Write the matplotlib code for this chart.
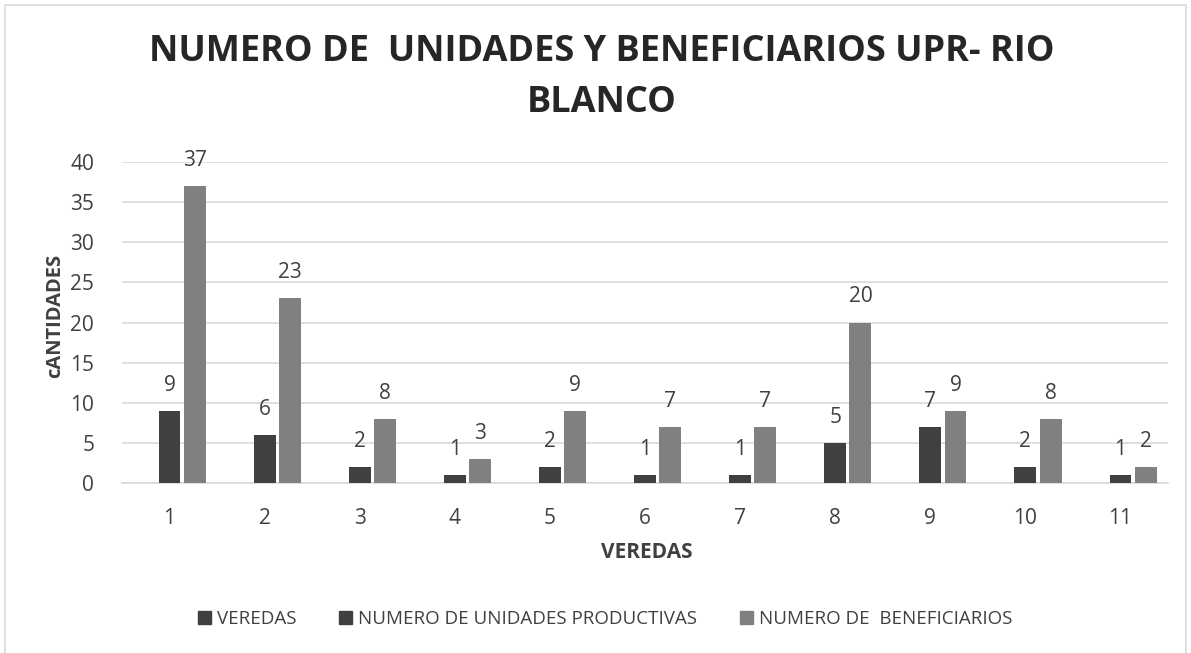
import matplotlib.pyplot as plt
import numpy as np
from matplotlib.patches import Rectangle, Patch

veredas = [1, 2, 3, 4, 5, 6, 7, 8, 9, 10, 11]
veredas_vals = [0, 0, 0, 0, 0, 0, 0, 0, 0, 0, 0]
unidades = [9, 6, 2, 1, 2, 1, 1, 5, 7, 2, 1]
beneficiarios = [37, 23, 8, 3, 9, 7, 7, 20, 9, 8, 2]

plt.rcParams['font.family'] = ['Open Sans', 'DejaVu Sans']
txt = '#404040'

fig = plt.figure(figsize=(11.91, 6.53), dpi=100)
fig.patches.append(Rectangle((0.004, -0.01), 0.992, 1.002, transform=fig.transFigure,
                             fill=False, edgecolor='#d9d9d9', linewidth=1.2))
ax = fig.add_axes([0.1024, 0.2603, 0.8783, 0.4916])

x = np.array(veredas)
w = 0.23
ax.bar(x - 0.265, veredas_vals, w, color='#404040')
ax.bar(x, unidades, w, color='#404040', zorder=3)
ax.bar(x + 0.265, beneficiarios, w, color='#808080', zorder=3)

for xi, v in zip(x, unidades):
    ax.text(xi, v + 3.2, str(v), ha='center', va='center', fontsize=15, color=txt)
for xi, v in zip(x, beneficiarios):
    ax.text(xi + 0.265, v + 3.2, str(v), ha='center', va='center', fontsize=15, color=txt)

ax.set_xlim(0.5, 11.5)
ax.set_ylim(0, 40)
ax.set_yticks(range(0, 41, 5))
ax.set_xticks(x)
ax.grid(axis='y', color='#d9d9d9', linewidth=1.2, zorder=0)
ax.set_axisbelow(True)
for s in ['top', 'right', 'left']:
    ax.spines[s].set_visible(False)
ax.spines['bottom'].set_color('#d9d9d9')
ax.spines['bottom'].set_linewidth(1.2)
ax.tick_params(axis='both', length=0, labelsize=15, colors=txt)
ax.tick_params(axis='x', pad=18)
ax.tick_params(axis='y', pad=20)

fig.text(647 / 1191, 1 - 553 / 653, 'VEREDAS', ha='center', va='center',
         fontsize=15, fontweight='bold', color=txt)
fig.text(55 / 1191, 1 - 316 / 653, 'cANTIDADES', ha='center', va='center', rotation=90,
         fontsize=14.5, fontweight='bold', color=txt)

fig.text(0.505, 1 - 52 / 653, 'NUMERO DE  UNIDADES Y BENEFICIARIOS UPR- RIO',
         ha='center', va='center', fontsize=26, fontweight='bold', color='#262626')
fig.text(0.505, 1 - 103 / 653, 'BLANCO',
         ha='center', va='center', fontsize=26, fontweight='bold', color='#262626')

handles = [Patch(color='#404040'), Patch(color='#404040'), Patch(color='#808080')]
labels = ['VEREDAS', 'NUMERO DE UNIDADES PRODUCTIVAS', 'NUMERO DE  BENEFICIARIOS']
fig.legend(handles, labels, loc='center', bbox_to_anchor=(0.508, 1 - 619 / 653), ncol=3,
           frameon=False, fontsize=13.5, labelcolor=txt, handlelength=0.7,
           handleheight=0.7, handletextpad=0.3, columnspacing=2.3)

fig.savefig('out.png', dpi=100)
